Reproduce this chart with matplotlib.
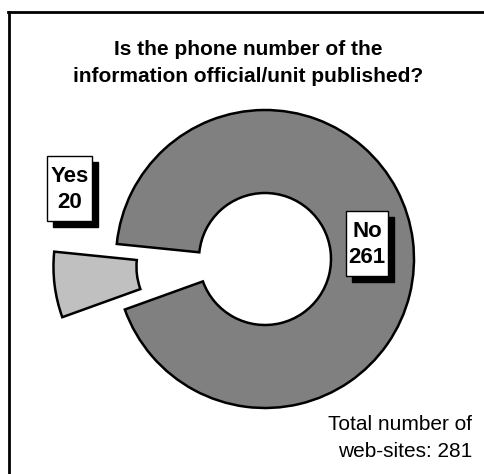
import matplotlib
matplotlib.use("Agg")
import matplotlib.pyplot as plt
from matplotlib.patches import Rectangle
from matplotlib.lines import Line2D

# data
labels = ["Yes", "No"]
counts = [20, 261]
colors = ["#c0c0c0", "#808080"]
title = "Is the phone number of the\ninformation official/unit published?"
total_note = "Total number of\nweb-sites: 281"

plt.rcParams["font.family"] = ["Liberation Sans", "DejaVu Sans"]

W, H = 485, 474
fig = plt.figure(figsize=(W / 100, H / 100), dpi=100)
ax = fig.add_axes([0, 0, 1, 1])

# frame: only top and left edges
fig.add_artist(Line2D([9 / W, 9 / W], [0, 1 - 11.5 / H], color="black", lw=2, transform=fig.transFigure))
fig.add_artist(Line2D([8 / W, 1], [1 - 11.5 / H, 1 - 11.5 / H], color="black", lw=2, transform=fig.transFigure))

# donut (explode offset is in data units here)
R = 149
cx, cy = 265, H - 259
ax.pie(counts, colors=colors, startangle=174.2, counterclock=True,
       explode=(63, 0), radius=R, center=(cx, cy),
       wedgeprops=dict(width=83, edgecolor="black", linewidth=1.8),
       frame=False)
ax.set_xlim(0, W)
ax.set_ylim(0, H)
ax.set_aspect("equal")
ax.axis("off")

# label boxes with drop shadow
boxes = [(47, 156, 45, 65), (346, 211, 42, 65)]
for (x0, y0, bw, bh), lab, val in zip(boxes, labels, counts):
    ax.add_patch(Rectangle((x0 + 6, H - y0 - bh - 6), bw, bh, facecolor="black",
                           edgecolor="black", lw=1, zorder=5))
    ax.add_patch(Rectangle((x0, H - y0 - bh), bw, bh, facecolor="white",
                           edgecolor="black", lw=1, zorder=6))
    ax.text(x0 + bw / 2, H - y0 - bh / 2 - 1, f"{lab}\n{val}", ha="center", va="center",
            fontsize=16, fontweight="bold", linespacing=1.35, zorder=7)

fig.text(248 / W, 1 - 63 / H, title, ha="center", va="center",
         fontsize=15, fontweight="bold", linespacing=1.58)
fig.text(472 / W, 1 - 438 / H, total_note, ha="right", va="center",
         fontsize=15, linespacing=1.48)

fig.savefig("out.png", dpi=100)
